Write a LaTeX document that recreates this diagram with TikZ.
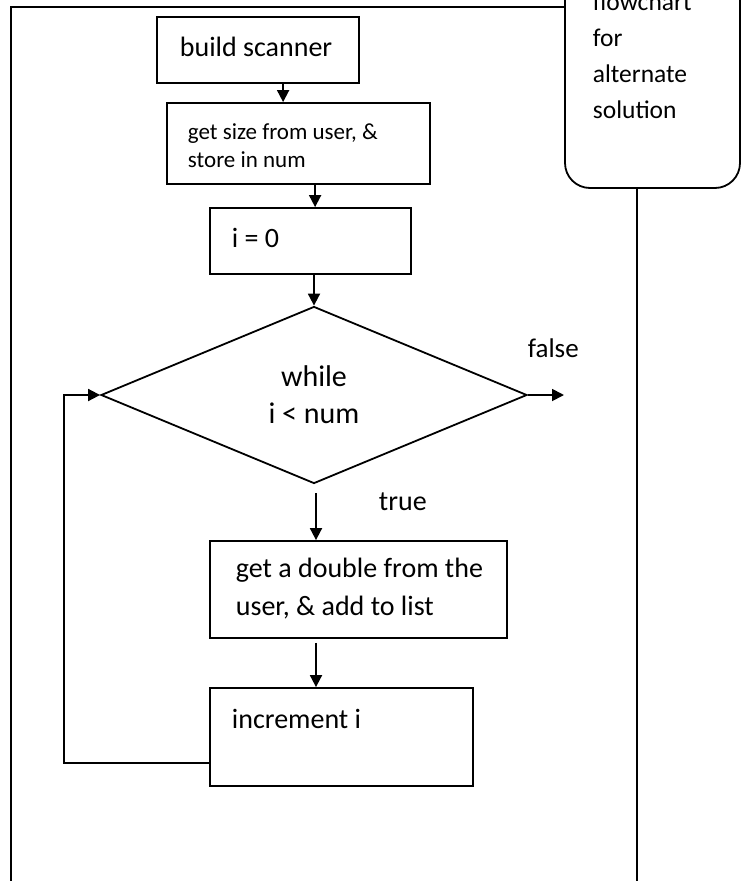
\documentclass[tikz,border=0pt]{standalone}
\usepackage{fontspec}
\setmainfont{Carlito}
\usetikzlibrary{arrows.meta,shapes.geometric,calc}
\begin{document}
\begin{tikzpicture}[x=1pt,y=-1pt,line width=1.8pt,
  arr/.style={-{Triangle[length=12pt,width=12pt]}},
  boxnode/.style={draw,rectangle,inner sep=0pt},
  txt/.style={anchor=west,inner sep=0pt,align=left,font=\fontsize{28}{38}\selectfont},
  smalltxt/.style={anchor=west,inner sep=0pt,align=left,font=\fontsize{23}{28}\selectfont},
  notetxt/.style={anchor=west,inner sep=0pt,align=left,font=\fontsize{25.5}{36}\selectfont}]
\useasboundingbox (0,0) rectangle (749,881);
\clip (0,0) rectangle (749,881);

% boxes
\node[boxnode,minimum width=202pt,minimum height=66pt] (b1) at (258,50) {};
\node[boxnode,minimum width=263pt,minimum height=81pt] (b2) at (298.5,143.5) {};
\node[boxnode,minimum width=201pt,minimum height=66pt] (b3) at (310.5,241) {};
\node[draw,diamond,inner sep=0pt,aspect=2.4,minimum width=426pt,minimum height=177pt,
      align=center,font=\fontsize{30}{37}\selectfont] (d) at (314,395) {while\\i < num};
\node[boxnode,minimum width=297pt,minimum height=97pt] (b4) at (358.5,589.5) {};
\node[boxnode,minimum width=263pt,minimum height=98pt] (b5) at (341.5,737) {};
\node[draw,rectangle,rounded corners=25pt,inner sep=0pt,minimum width=175pt,minimum height=228pt] (rb) at (652.5,74) {};

% texts
\node[txt] (t1) at (179,47) {build scanner};
\node[smalltxt] (t2) at (187,146) {get size from user, \&\\store in num};
\node[txt] (t3) at (231,238) {i = 0};
\node[txt] (t4) at (235,589) {get a double from the\\user, \& add to list};
\node[txt] (t5) at (231,719) {increment i};
\node[txt,font=\fontsize{28}{34}\selectfont] (ttrue) at (378,502) {true};
\node[txt,font=\fontsize{27}{34}\selectfont] (tfalse) at (527,348) {false};
\node[notetxt] (tn) at (592,56) {flowchart\\for\\alternate\\solution};

% frame
\coordinate (fbl) at (11,900);
\coordinate (ftl) at (11,7);
\draw (fbl) -- (ftl) -- (ftl -| rb.west);
\coordinate (frr) at (637,900);
\draw (rb.south -| frr) -- (frr);

% connectors
\draw[arr] ([xshift=127pt]b1.south west) -- ([xshift=127pt]b1.south west |- b2.north);
\draw[arr] ([xshift=149pt]b2.south west) -- ([xshift=149pt]b2.south west |- b3.north);
\draw[arr] (d.north |- b3.south) -- (d.north);
\coordinate (fout) at (564,395);
\draw[arr] (d.east) -- (fout);
\draw[arr] ([xshift=2pt,yshift=-9pt]d.south) -- ([xshift=2pt]d.south |- b4.north);
\draw[arr] ([xshift=2pt,yshift=-4pt]d.south |- b4.south) -- ([xshift=2pt]d.south |- b5.north);
\coordinate (loopc) at (64,763);
\draw[arr] (b5.west |- loopc) -- (loopc) |- (d.west);
\end{tikzpicture}
\end{document}
